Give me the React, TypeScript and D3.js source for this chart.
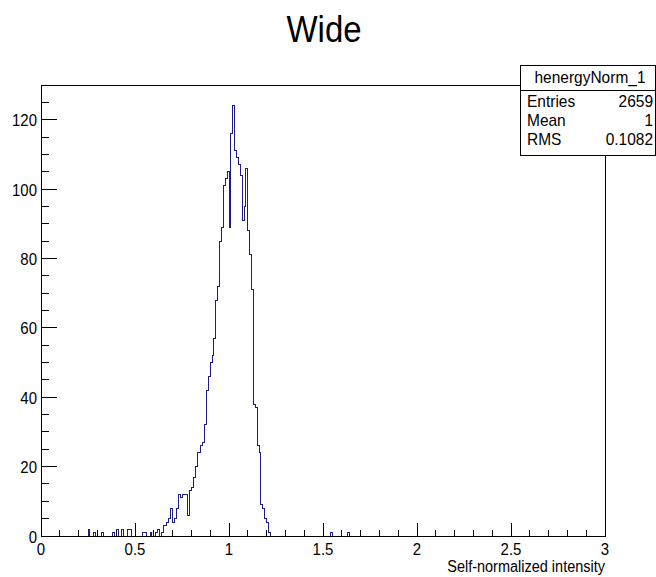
import React from "react";
import * as d3 from "d3";

// Histogram definition: 300 bins on [0, 3]
const X_MIN = 0;
const X_MAX = 3;
const N_BINS = 300;
const Y_MAX = 130;

// lower edges of non-empty bins and their contents
const binStart = [
  0.25, 0.28, 0.32, 0.38, 0.40, 0.43, 0.46, 0.47, 0.54, 0.55, 0.58, 0.61, 0.62, 0.64,
  0.65, 0.66, 0.67, 0.68, 0.69, 0.70, 0.71, 0.72,
  0.73, 0.74, 0.75, 0.76, 0.77, 0.78, 0.79, 0.80,
  0.81, 0.82, 0.83, 0.84, 0.85, 0.86, 0.87,
  0.88, 0.89, 0.90, 0.91, 0.92, 0.93, 0.94,
  0.95, 0.96, 0.97, 0.98, 0.99, 1.00, 1.01, 1.02,
  1.03, 1.04, 1.05, 1.06, 1.07, 1.08, 1.09, 1.10,
  1.11, 1.12, 1.13, 1.14, 1.15, 1.16, 1.17, 1.18, 1.19, 1.20, 1.21,
  1.54, 1.63,
];
const counts = [
  2, 1, 1, 1, 2, 2, 2, 2, 1, 1, 1, 1, 2, 1,
  3, 3, 4, 5, 8, 4, 5, 8,
  12, 11, 12, 12, 12, 6, 13, 14,
  17, 20, 24, 24, 26, 27, 32,
  42, 46, 50, 52, 57, 68, 72,
  85, 89, 101, 103, 105, 89, 116, 124,
  111, 109, 107, 104, 91, 95, 106, 88,
  81, 71, 38, 37, 26, 24, 9, 8, 5, 4, 1,
  1, 1,
];

const xMajorTicks = [0, 0.5, 1, 1.5, 2, 2.5, 3];
const xTickLabels = ["0", "0.5", "1", "1.5", "2", "2.5", "3"];
const yMajorTicks = [0, 20, 40, 60, 80, 100, 120];
const yTickLabels = ["0", "20", "40", "60", "80", "100", "120"];

const titleText = "Wide";
const xAxisTitle = "Self-normalized intensity";
const statsName = "henergyNorm_1";
const statsLabels = ["Entries", "Mean", "RMS"];
const statsValues = ["2659", "1", "0.1082"];

const FONT = "'Liberation Sans', Arial, Helvetica, sans-serif";
const SY = 1.12; // vertical stretch of text as in reference

export default function App() {
  const W = 656;
  const H = 577;
  const left = 41, right = 605, top = 85, bottom = 536;

  const x = d3.scaleLinear().domain([X_MIN, X_MAX]).range([left, right]);
  const y = d3.scaleLinear().domain([0, Y_MAX]).range([bottom, top]);

  const bw = (X_MAX - X_MIN) / N_BINS;
  const full = new Array(N_BINS).fill(0);
  binStart.forEach((s, k) => {
    const i = Math.round((s - X_MIN) / bw);
    full[i] = counts[k];
  });

  const pts: [number, number][] = [[x(X_MIN), y(0)]];
  full.forEach((c, i) => {
    const lo = X_MIN + i * bw;
    const hi = lo + bw;
    pts.push([x(lo), y(c)]);
    pts.push([x(hi), y(c)]);
  });
  pts.push([x(X_MAX), y(0)]);
  const line = d3.line();
  const histPath = line(pts) || "";

  const xMinor = d3.range(0, 31).map((k) => k * 0.1).filter((v) => Math.abs((v * 2) - Math.round(v * 2)) > 1e-6);
  const yMinor = d3.range(0, Y_MAX + 0.001, 5).filter((v) => v % 20 !== 0);

  const txt = (
    key: string,
    tx: number,
    ty: number,
    s: string,
    size: number,
    anchor: "start" | "middle" | "end"
  ) => (
    <text
      key={key}
      transform={`translate(${tx},${ty}) scale(1,${SY})`}
      fontFamily={FONT}
      fontSize={size}
      textAnchor={anchor}
      fill="#000"
    >
      {s}
    </text>
  );

  return (
    <svg
      width={W}
      height={H}
      style={{ position: "absolute", left: 0, top: 0, background: "#fff" }}
    >
      <rect x={0} y={0} width={W} height={H} fill="#fff" />
      {txt("title", 324, 42, titleText, 33, "middle")}

      <path d={histPath} fill="none" stroke="#1c1c8a" strokeWidth={1} shapeRendering="crispEdges" />

      {/* frame */}
      <rect x={left} y={top} width={right - left} height={bottom - top} fill="none" stroke="#000" strokeWidth={1} shapeRendering="crispEdges" />

      {/* x ticks */}
      {xMajorTicks.map((v) => (
        <line key={"xM" + v} x1={x(v)} x2={x(v)} y1={bottom} y2={bottom - 13} stroke="#000" shapeRendering="crispEdges" />
      ))}
      {xMinor.map((v) => (
        <line key={"xm" + v} x1={x(v)} x2={x(v)} y1={bottom} y2={bottom - 6.5} stroke="#000" shapeRendering="crispEdges" />
      ))}
      {xMajorTicks.map((v, i) => txt("xl" + v, x(v), 555, xTickLabels[i], 15, "middle"))}
      {txt("xt", right, 572, xAxisTitle, 14.5, "end")}

      {/* y ticks */}
      {yMajorTicks.map((v) => (
        <line key={"yM" + v} x1={left} x2={left + 16} y1={y(v)} y2={y(v)} stroke="#000" shapeRendering="crispEdges" />
      ))}
      {yMinor.map((v) => (
        <line key={"ym" + v} x1={left} x2={left + 8} y1={y(v)} y2={y(v)} stroke="#000" shapeRendering="crispEdges" />
      ))}
      {yMajorTicks.map((v, i) => txt("yl" + v, 37, y(v) + 6.5, yTickLabels[i], 15, "end"))}

      {/* stats box */}
      <rect x={520} y={65} width={135} height={90} fill="#fff" stroke="#000" strokeWidth={1} shapeRendering="crispEdges" />
      <line x1={520} x2={655} y1={90} y2={90} stroke="#000" shapeRendering="crispEdges" />
      {txt("sn", 590, 83, statsName, 15.5, "middle")}
      {statsLabels.map((l, i) => txt("sl" + i, 527, 106.5 + i * 19.2, l, 15.5, "start"))}
      {statsValues.map((v, i) => txt("sv" + i, 653, 106.5 + i * 19.2, v, 15.5, "end"))}
    </svg>
  );
}
